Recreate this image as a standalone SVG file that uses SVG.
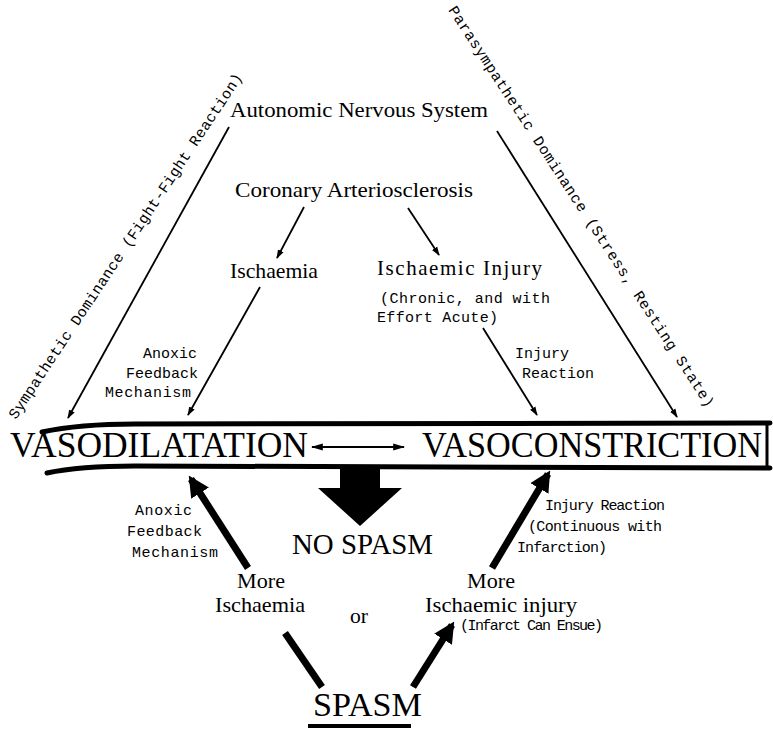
<svg xmlns="http://www.w3.org/2000/svg" width="773" height="731" viewBox="0 0 773 731">
<defs>
<marker id="ah" viewBox="0 0 10 10" refX="9" refY="5" markerWidth="9" markerHeight="9" markerUnits="userSpaceOnUse" orient="auto">
<path d="M0,1.5 L10,5 L0,8.5 Z" fill="#000"/>
</marker>
<marker id="ahs" viewBox="0 0 10 10" refX="9" refY="5" markerWidth="12" markerHeight="12" markerUnits="userSpaceOnUse" orient="auto-start-reverse">
<path d="M0,2 L10,5 L0,8 Z" fill="#000"/>
</marker>
<marker id="ahb" viewBox="0 0 10 10" refX="8" refY="5" markerWidth="3" markerHeight="3" orient="auto">
<path d="M0,0 L10,5 L0,10 Z" fill="#000"/>
</marker>
<style>
.s{font-family:"Liberation Serif","Times New Roman",serif;fill:#000}
.m{font-family:"Liberation Mono","Courier New",monospace;fill:#000;font-size:15px}
.ln{stroke:#000;stroke-width:1.8;fill:none}
.th{stroke:#000;stroke-width:7;fill:none}
</style>
</defs>
<rect width="773" height="731" fill="#fff"/>

<g id="connectors">
<line class="ln" x1="229" y1="127" x2="68" y2="418" marker-end="url(#ah)"/>
<line class="ln" x1="497" y1="131" x2="677" y2="417" marker-end="url(#ah)"/>
<line class="ln" x1="304" y1="207" x2="277" y2="258" marker-end="url(#ah)"/>
<line class="ln" x1="408" y1="208" x2="439" y2="255" marker-end="url(#ah)"/>
<line class="ln" x1="260" y1="287" x2="188" y2="415" marker-end="url(#ah)"/>
<line class="ln" x1="483" y1="328" x2="537" y2="415" marker-end="url(#ah)"/>
<line class="ln" x1="312" y1="447" x2="404" y2="447" marker-start="url(#ahs)" marker-end="url(#ahs)"/>
<line class="th" x1="248" y1="568" x2="191" y2="479" marker-end="url(#ahb)"/>
<line class="th" x1="492" y1="568" x2="548" y2="474" marker-end="url(#ahb)"/>
<line class="th" x1="285" y1="633" x2="322" y2="687"/>
<line class="th" x1="413" y1="687" x2="452" y2="625" marker-end="url(#ahb)"/>
<polygon points="340,468 380,468 380,488 402,488 360,526 318,488 340,488" fill="#000"/>
</g>

<g id="band">
<path d="M42,432 C70,426 100,424 135,424 L770,423" stroke="#000" stroke-width="5" fill="none" stroke-linecap="round"/>
<path d="M47,473 C70,468 100,466 135,466 L770,468" stroke="#000" stroke-width="5" fill="none" stroke-linecap="round"/>
<line x1="767" y1="423" x2="767" y2="469" stroke="#000" stroke-width="3"/>
</g>

<g id="n-sympathetic">
<text class="m" transform="translate(16,420) rotate(-56.5)" textLength="411" lengthAdjust="spacing">Sympathetic Dominance (Fight-Fight Reaction)</text>
</g>
<g id="n-parasympathetic">
<text class="m" transform="translate(448,10) rotate(57)" textLength="475" lengthAdjust="spacing">Parasympathetic Dominance (Stress, Resting State)</text>
</g>

<g id="n-ans"><text class="s" x="230" y="117" font-size="21" textLength="258" lengthAdjust="spacingAndGlyphs">Autonomic Nervous System</text></g>
<g id="n-ca"><text class="s" x="235" y="197" font-size="21" textLength="238" lengthAdjust="spacingAndGlyphs">Coronary Arteriosclerosis</text></g>
<g id="n-isch"><text class="s" x="230" y="278" font-size="21" textLength="88" lengthAdjust="spacingAndGlyphs">Ischaemia</text></g>
<g id="n-ischinj">
<text class="s" x="377" y="275" font-size="21" textLength="165" lengthAdjust="spacing">Ischaemic  Injury</text>
<text class="m" x="380" y="303" textLength="170" lengthAdjust="spacing">(Chronic, and with</text>
<text class="m" x="377" y="322" textLength="121" lengthAdjust="spacing">Effort Acute)</text>
</g>
<g id="l-anoxic1">
<text class="m" x="143" y="358">Anoxic</text>
<text class="m" x="126" y="378">Feedback</text>
<text class="m" x="105" y="397" textLength="86" lengthAdjust="spacing">Mechanism</text>
</g>
<g id="l-injury1">
<text class="m" x="515" y="358">Injury</text>
<text class="m" x="522" y="378">Reaction</text>
</g>

<g id="n-vasodil"><text class="s" x="10" y="457" font-size="35" textLength="298" lengthAdjust="spacingAndGlyphs">VASODILATATION</text></g>
<g id="n-vasocon"><text class="s" x="422" y="457" font-size="35" textLength="340" lengthAdjust="spacingAndGlyphs">VASOCONSTRICTION</text></g>

<g id="l-anoxic2">
<text class="m" x="135" y="515" font-size="14" textLength="57" lengthAdjust="spacing">Anoxic</text>
<text class="m" x="127" y="536" font-size="14" textLength="75" lengthAdjust="spacing">Feedback</text>
<text class="m" x="132" y="557" font-size="14" textLength="86" lengthAdjust="spacing">Mechanism</text>
</g>
<g id="n-nospasm"><text class="s" x="292" y="554" font-size="30" textLength="141" lengthAdjust="spacingAndGlyphs">NO SPASM</text></g>
<g id="l-injury2">
<text class="m" x="545" y="510" font-size="14" textLength="120" lengthAdjust="spacing">Injury Reaction</text>
<text class="m" x="528" y="531" font-size="14" textLength="134" lengthAdjust="spacing">(Continuous with</text>
<text class="m" x="517" y="552" font-size="14" textLength="90" lengthAdjust="spacing">Infarction)</text>
</g>
<g id="n-moreisch">
<text class="s" x="237" y="588" font-size="22" textLength="48" lengthAdjust="spacingAndGlyphs">More</text>
<text class="s" x="215" y="612" font-size="22" textLength="90" lengthAdjust="spacingAndGlyphs">Ischaemia</text>
</g>
<g id="n-or"><text class="s" x="350" y="623" font-size="22" textLength="18" lengthAdjust="spacingAndGlyphs">or</text></g>
<g id="n-moreinj">
<text class="s" x="467" y="588" font-size="22" textLength="48" lengthAdjust="spacingAndGlyphs">More</text>
<text class="s" x="425" y="612" font-size="22" textLength="152" lengthAdjust="spacingAndGlyphs">Ischaemic injury</text>
<text class="m" x="460" y="630" font-size="14" textLength="143" lengthAdjust="spacing">(Infarct Can Ensue)</text>
</g>
<g id="n-spasm">
<text class="s" x="313" y="716" font-size="33" textLength="109" lengthAdjust="spacingAndGlyphs">SPASM</text>
<line x1="308" y1="726" x2="411" y2="726" stroke="#000" stroke-width="4"/>
</g>
</svg>
